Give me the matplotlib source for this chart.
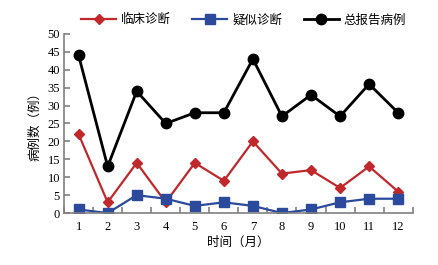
import matplotlib.pyplot as plt
import numpy as np

months = [1, 2, 3, 4, 5, 6, 7, 8, 9, 10, 11, 12]
clinical = [22, 3, 14, 3, 14, 9, 20, 11, 12, 7, 13, 6]
suspected = [1, 0, 5, 4, 2, 3, 2, 0, 1, 3, 4, 4]
total = [44, 13, 34, 25, 28, 28, 43, 27, 33, 27, 36, 28]

plt.rcParams['font.family'] = ['Liberation Serif', 'Noto Sans CJK SC']
cjk = ['Noto Sans CJK SC']

fig = plt.figure(figsize=(4.39, 2.65), dpi=100)
ax = fig.add_axes([0.146, 0.196, 0.794, 0.676])

ax.plot(months, clinical, color='#c0282b', lw=1.6, marker='D', ms=5, label='临床诊断')
ax.plot(months, suspected, color='#2b4a9c', lw=1.6, marker='s', ms=7, label='疑似诊断')
ax.plot(months, total, color='black', lw=2, marker='o', ms=7.5, label='总报告病例')

ax.set_xlim(0.5, 12.5)
ax.set_ylim(0, 50)
ax.set_yticks(range(0, 51, 5))
ax.set_xticks(months)
ax.set_xticks(np.arange(0.5, 13, 1), minor=True)
ax.tick_params(axis='x', which='major', length=0, labelsize=9, pad=6)
ax.tick_params(axis='x', which='minor', direction='in', length=4, color='#808080', width=1.2)
ax.tick_params(axis='y', direction='in', length=4, color='#808080', width=1.2, labelsize=9, pad=3)
for s in ['top', 'right']:
    ax.spines[s].set_visible(False)
for s in ['left', 'bottom']:
    ax.spines[s].set_color('#808080')
    ax.spines[s].set_linewidth(1.2)
ax.set_xlabel('时间（月）', family=cjk, fontsize=9, labelpad=2)
ax.set_ylabel('病例数（例）', family=cjk, fontsize=9, labelpad=4)

leg = ax.legend(loc='lower center', bbox_to_anchor=(0.515, 1.0), ncol=3, frameon=False,
                prop={'family': cjk, 'size': 9}, handlelength=2.8, columnspacing=1.7,
                handletextpad=0.4, borderaxespad=0.2)
fig.savefig('out.png', dpi=100)
